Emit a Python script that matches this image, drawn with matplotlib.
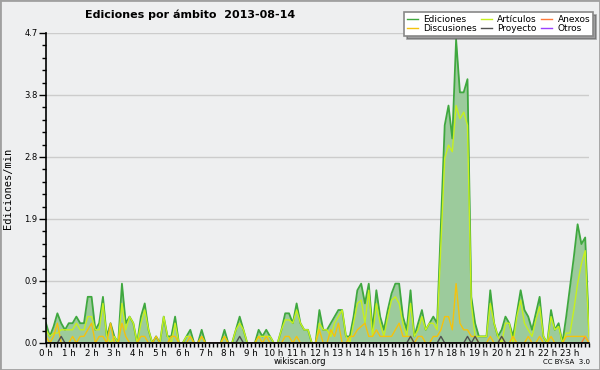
import numpy as np
import matplotlib.pyplot as plt
from matplotlib.ticker import AutoMinorLocator, FixedLocator
from matplotlib.patches import Rectangle

# one value every 10 minutes, 144 per day (12 per row = 2 hours)
ediciones = [
    0.3, 0.1, 0.25, 0.45, 0.3, 0.2, 0.3, 0.3, 0.4, 0.3, 0.3, 0.7,
    0.7, 0.2, 0.3, 0.7, 0.1, 0.3, 0.1, 0.0, 0.9, 0.3, 0.4, 0.3,
    0.0, 0.4, 0.6, 0.2, 0.0, 0.1, 0.0, 0.4, 0.1, 0.1, 0.4, 0.0,
    0.0, 0.1, 0.2, 0.0, 0.0, 0.2, 0.0, 0.0, 0.0, 0.0, 0.0, 0.2,
    0.0, 0.0, 0.2, 0.4, 0.2, 0.0, 0.0, 0.0, 0.2, 0.1, 0.2, 0.1,
    0.0, 0.0, 0.2, 0.45, 0.45, 0.3, 0.6, 0.3, 0.2, 0.2, 0.0, 0.0,
    0.5, 0.2, 0.2, 0.3, 0.4, 0.5, 0.5, 0.1, 0.1, 0.4, 0.8, 0.9,
    0.6, 0.9, 0.2, 0.8, 0.4, 0.2, 0.5, 0.75, 0.9, 0.9, 0.4, 0.2,
    0.8, 0.1, 0.3, 0.5, 0.2, 0.3, 0.4, 0.3, 1.8, 3.3, 3.6, 3.1,
    4.6, 3.8, 3.8, 4.0, 0.7, 0.3, 0.1, 0.1, 0.1, 0.8, 0.3, 0.1,
    0.2, 0.4, 0.3, 0.1, 0.45, 0.8, 0.5, 0.4, 0.2, 0.45, 0.7, 0.1,
    0.0, 0.5, 0.2, 0.3, 0.0, 0.4, 0.85, 1.3, 1.8, 1.5, 1.6, 0.2,
]
articulos = [
    0.2, 0.1, 0.15, 0.15, 0.2, 0.2, 0.2, 0.2, 0.3, 0.2, 0.2, 0.4,
    0.4, 0.2, 0.2, 0.6, 0.1, 0.0, 0.1, 0.0, 0.6, 0.2, 0.4, 0.3,
    0.0, 0.3, 0.5, 0.2, 0.0, 0.0, 0.0, 0.4, 0.1, 0.0, 0.3, 0.0,
    0.0, 0.1, 0.1, 0.0, 0.0, 0.1, 0.0, 0.0, 0.0, 0.0, 0.0, 0.1,
    0.0, 0.0, 0.2, 0.3, 0.2, 0.0, 0.0, 0.0, 0.1, 0.1, 0.1, 0.1,
    0.0, 0.0, 0.2, 0.35, 0.35, 0.3, 0.5, 0.3, 0.2, 0.2, 0.0, 0.0,
    0.3, 0.2, 0.2, 0.1, 0.3, 0.4, 0.5, 0.1, 0.0, 0.3, 0.6, 0.65,
    0.3, 0.8, 0.1, 0.6, 0.3, 0.1, 0.4, 0.65, 0.7, 0.6, 0.3, 0.1,
    0.6, 0.1, 0.2, 0.4, 0.2, 0.3, 0.3, 0.2, 1.5, 2.8, 3.0, 2.9,
    3.6, 3.4, 3.5, 3.3, 0.6, 0.1, 0.1, 0.1, 0.1, 0.6, 0.3, 0.1,
    0.0, 0.3, 0.3, 0.0, 0.4, 0.65, 0.3, 0.2, 0.1, 0.35, 0.55, 0.1,
    0.0, 0.4, 0.2, 0.25, 0.0, 0.15, 0.15, 0.5, 0.9, 1.2, 1.4, 0.1,
]
discusiones = [
    0.1, 0.0, 0.1, 0.3, 0.0, 0.0, 0.0, 0.1, 0.0, 0.1, 0.1, 0.2,
    0.3, 0.0, 0.1, 0.1, 0.0, 0.3, 0.0, 0.0, 0.3, 0.1, 0.0, 0.0,
    0.0, 0.1, 0.1, 0.0, 0.0, 0.1, 0.0, 0.0, 0.0, 0.1, 0.1, 0.0,
    0.0, 0.0, 0.1, 0.0, 0.0, 0.1, 0.0, 0.0, 0.0, 0.0, 0.0, 0.1,
    0.0, 0.0, 0.0, 0.0, 0.0, 0.0, 0.0, 0.0, 0.1, 0.0, 0.1, 0.0,
    0.0, 0.0, 0.0, 0.1, 0.1, 0.0, 0.1, 0.0, 0.0, 0.0, 0.0, 0.0,
    0.2, 0.0, 0.0, 0.2, 0.1, 0.3, 0.0, 0.0, 0.1, 0.1, 0.2, 0.25,
    0.3, 0.1, 0.1, 0.2, 0.1, 0.1, 0.1, 0.1, 0.2, 0.3, 0.1, 0.1,
    0.1, 0.0, 0.1, 0.1, 0.0, 0.0, 0.1, 0.1, 0.2, 0.4, 0.4, 0.2,
    0.9, 0.3, 0.2, 0.2, 0.1, 0.1, 0.0, 0.0, 0.0, 0.1, 0.0, 0.0,
    0.1, 0.0, 0.0, 0.1, 0.0, 0.0, 0.0, 0.1, 0.0, 0.0, 0.1, 0.0,
    0.0, 0.1, 0.0, 0.0, 0.0, 0.1, 0.1, 0.1, 0.1, 0.1, 0.1, 0.0,
]
proyecto = [
    0.0, 0.0, 0.0, 0.0, 0.1, 0.0, 0.0, 0.0, 0.0, 0.0, 0.0, 0.0,
    0.0, 0.0, 0.0, 0.0, 0.0, 0.0, 0.0, 0.0, 0.0, 0.0, 0.0, 0.0,
    0.0, 0.0, 0.0, 0.0, 0.0, 0.0, 0.0, 0.0, 0.0, 0.0, 0.0, 0.0,
    0.0, 0.0, 0.0, 0.0, 0.0, 0.0, 0.0, 0.0, 0.0, 0.0, 0.0, 0.0,
    0.0, 0.0, 0.0, 0.1, 0.0, 0.0, 0.0, 0.0, 0.0, 0.0, 0.0, 0.0,
    0.0, 0.0, 0.0, 0.0, 0.0, 0.0, 0.0, 0.0, 0.0, 0.0, 0.0, 0.0,
    0.0, 0.0, 0.0, 0.0, 0.0, 0.0, 0.0, 0.0, 0.0, 0.0, 0.0, 0.0,
    0.0, 0.0, 0.0, 0.0, 0.0, 0.0, 0.0, 0.0, 0.0, 0.0, 0.0, 0.0,
    0.1, 0.0, 0.0, 0.0, 0.0, 0.0, 0.0, 0.0, 0.1, 0.0, 0.0, 0.0,
    0.0, 0.0, 0.0, 0.1, 0.0, 0.1, 0.0, 0.0, 0.0, 0.0, 0.0, 0.0,
    0.1, 0.0, 0.0, 0.0, 0.0, 0.0, 0.0, 0.0, 0.0, 0.0, 0.0, 0.0,
    0.0, 0.0, 0.0, 0.0, 0.0, 0.0, 0.0, 0.0, 0.0, 0.0, 0.0, 0.0,
]
anexos = [
    0.0, 0.0, 0.0, 0.0, 0.0, 0.0, 0.0, 0.0, 0.0, 0.0, 0.0, 0.0,
    0.0, 0.0, 0.0, 0.0, 0.0, 0.0, 0.0, 0.0, 0.0, 0.0, 0.0, 0.0,
    0.0, 0.0, 0.0, 0.0, 0.0, 0.0, 0.0, 0.0, 0.0, 0.0, 0.0, 0.0,
    0.0, 0.0, 0.0, 0.0, 0.0, 0.0, 0.0, 0.0, 0.0, 0.0, 0.0, 0.0,
    0.0, 0.0, 0.0, 0.0, 0.0, 0.0, 0.0, 0.0, 0.0, 0.0, 0.0, 0.0,
    0.0, 0.0, 0.0, 0.0, 0.0, 0.0, 0.0, 0.0, 0.0, 0.0, 0.0, 0.0,
    0.0, 0.0, 0.0, 0.0, 0.0, 0.0, 0.0, 0.0, 0.0, 0.0, 0.0, 0.0,
    0.0, 0.0, 0.0, 0.0, 0.0, 0.0, 0.0, 0.0, 0.0, 0.0, 0.0, 0.0,
    0.0, 0.0, 0.0, 0.0, 0.0, 0.0, 0.0, 0.0, 0.0, 0.0, 0.0, 0.0,
    0.0, 0.0, 0.0, 0.0, 0.0, 0.0, 0.0, 0.0, 0.0, 0.0, 0.0, 0.0,
    0.0, 0.0, 0.0, 0.0, 0.0, 0.0, 0.0, 0.0, 0.0, 0.0, 0.0, 0.0,
    0.0, 0.0, 0.0, 0.0, 0.0, 0.0, 0.0, 0.0, 0.0, 0.0, 0.1, 0.0,
]
otros = [
    0.0, 0.0, 0.0, 0.0, 0.0, 0.0, 0.0, 0.0, 0.0, 0.0, 0.0, 0.0,
    0.0, 0.0, 0.0, 0.0, 0.0, 0.0, 0.0, 0.0, 0.0, 0.0, 0.0, 0.0,
    0.0, 0.0, 0.0, 0.0, 0.0, 0.0, 0.0, 0.0, 0.0, 0.0, 0.0, 0.0,
    0.0, 0.0, 0.0, 0.0, 0.0, 0.0, 0.0, 0.0, 0.0, 0.0, 0.0, 0.0,
    0.0, 0.0, 0.0, 0.0, 0.0, 0.0, 0.0, 0.0, 0.0, 0.0, 0.0, 0.0,
    0.0, 0.0, 0.0, 0.0, 0.0, 0.0, 0.0, 0.0, 0.0, 0.0, 0.0, 0.0,
    0.0, 0.0, 0.0, 0.0, 0.0, 0.0, 0.0, 0.0, 0.0, 0.0, 0.0, 0.0,
    0.0, 0.0, 0.0, 0.0, 0.0, 0.0, 0.0, 0.0, 0.0, 0.0, 0.0, 0.0,
    0.0, 0.0, 0.0, 0.0, 0.0, 0.0, 0.0, 0.0, 0.0, 0.0, 0.0, 0.0,
    0.0, 0.0, 0.0, 0.0, 0.0, 0.0, 0.0, 0.0, 0.0, 0.0, 0.0, 0.0,
    0.0, 0.0, 0.0, 0.0, 0.0, 0.0, 0.0, 0.0, 0.0, 0.0, 0.0, 0.0,
    0.0, 0.0, 0.0, 0.0, 0.0, 0.0, 0.0, 0.0, 0.0, 0.0, 0.0, 0.0,
]

y_ticks = [0.0, 0.94, 1.88, 2.82, 3.76, 4.7]
y_labels = ['0.0', '0.9', '1.9', '2.8', '3.8', '4.7']
hours = list(range(24))
hour_labels = [str(h) + ' h' for h in hours]

bg = '#eeeff0'
t = np.arange(len(ediciones)) / 6.0

fig = plt.figure(figsize=(6, 3.7), dpi=100, facecolor=bg)
fig.patches.append(Rectangle((0, 0), 1, 1, transform=fig.transFigure,
                             fill=False, edgecolor='#a0a0a0', lw=2))
ax = fig.add_axes([46/600, 27/370, 543/600, 310/370])
ax.set_facecolor(bg)

ax.fill_between(t, ediciones, 0, color='#9ccb9c', lw=0)
ax.plot(t, ediciones, color='#3fa83f', lw=1.3, label='Ediciones')
ax.plot(t, articulos, color='#c6f01e', lw=1.0, label='Artículos')
ax.plot(t, anexos, color='#ff7a3a', lw=1.0, label='Anexos')
ax.plot(t, discusiones, color='#f4c20d', lw=1.0, label='Discusiones')
ax.plot(t, proyecto, color='#505050', lw=1.0, label='Proyecto')
ax.plot(t, otros, color='#9a40ff', lw=1.0, label='Otros')

ax.set_xlim(0, t[-1])
ax.set_ylim(0, 4.7)
ax.set_yticks(y_ticks)
ax.set_yticklabels(y_labels)
ax.yaxis.set_minor_locator(AutoMinorLocator(5))
ax.set_xticks(hours)
ax.set_xticklabels(hour_labels)
ax.xaxis.set_minor_locator(FixedLocator(t))
ax.tick_params(axis='x', which='both', length=3, width=1, pad=1, labelsize=6.3)
ax.tick_params(axis='y', which='major', length=5, width=1, pad=1, labelsize=6)
ax.tick_params(axis='y', which='minor', length=3, width=1)
ax.grid(axis='y', color='#cccccc', lw=1)
ax.set_axisbelow(True)
for s in ['top', 'right']:
    ax.spines[s].set_visible(False)
ax.spines['left'].set_linewidth(1.2)
ax.spines['bottom'].set_linewidth(1.2)

ax.set_ylabel('Ediciones/min', family='DejaVu Sans Mono', fontsize=7.5, labelpad=8)
fig.text(85/600, 1 - 15/370, 'Ediciones por ámbito  2013-08-14',
         fontsize=8, fontweight='bold', va='center', ha='left')
fig.text(300/600, 1 - 362/370, 'wikiscan.org', fontsize=6, ha='center', va='center')
fig.text(590/600, 1 - 362/370, 'CC BY-SA  3.0', fontsize=5, ha='right', va='center')

h, l = ax.get_legend_handles_labels()
order = [0, 3, 1, 4, 2, 5]
leg = ax.legend([h[i] for i in order], [l[i] for i in order], ncol=3,
                loc='upper left', bbox_to_anchor=(404/600, 1 - 12/370),
                bbox_transform=fig.transFigure, fontsize=6.5,
                frameon=True, fancybox=False, shadow=True,
                handlelength=1.2, handletextpad=0.6, columnspacing=0.5,
                labelspacing=0.05, borderpad=0.3, borderaxespad=0)
leg.get_frame().set_edgecolor('#888888')
leg.get_frame().set_linewidth(1.2)
for line in leg.get_lines():
    line.set_linewidth(1.0)

fig.savefig('out.png', dpi=100, facecolor=bg)
